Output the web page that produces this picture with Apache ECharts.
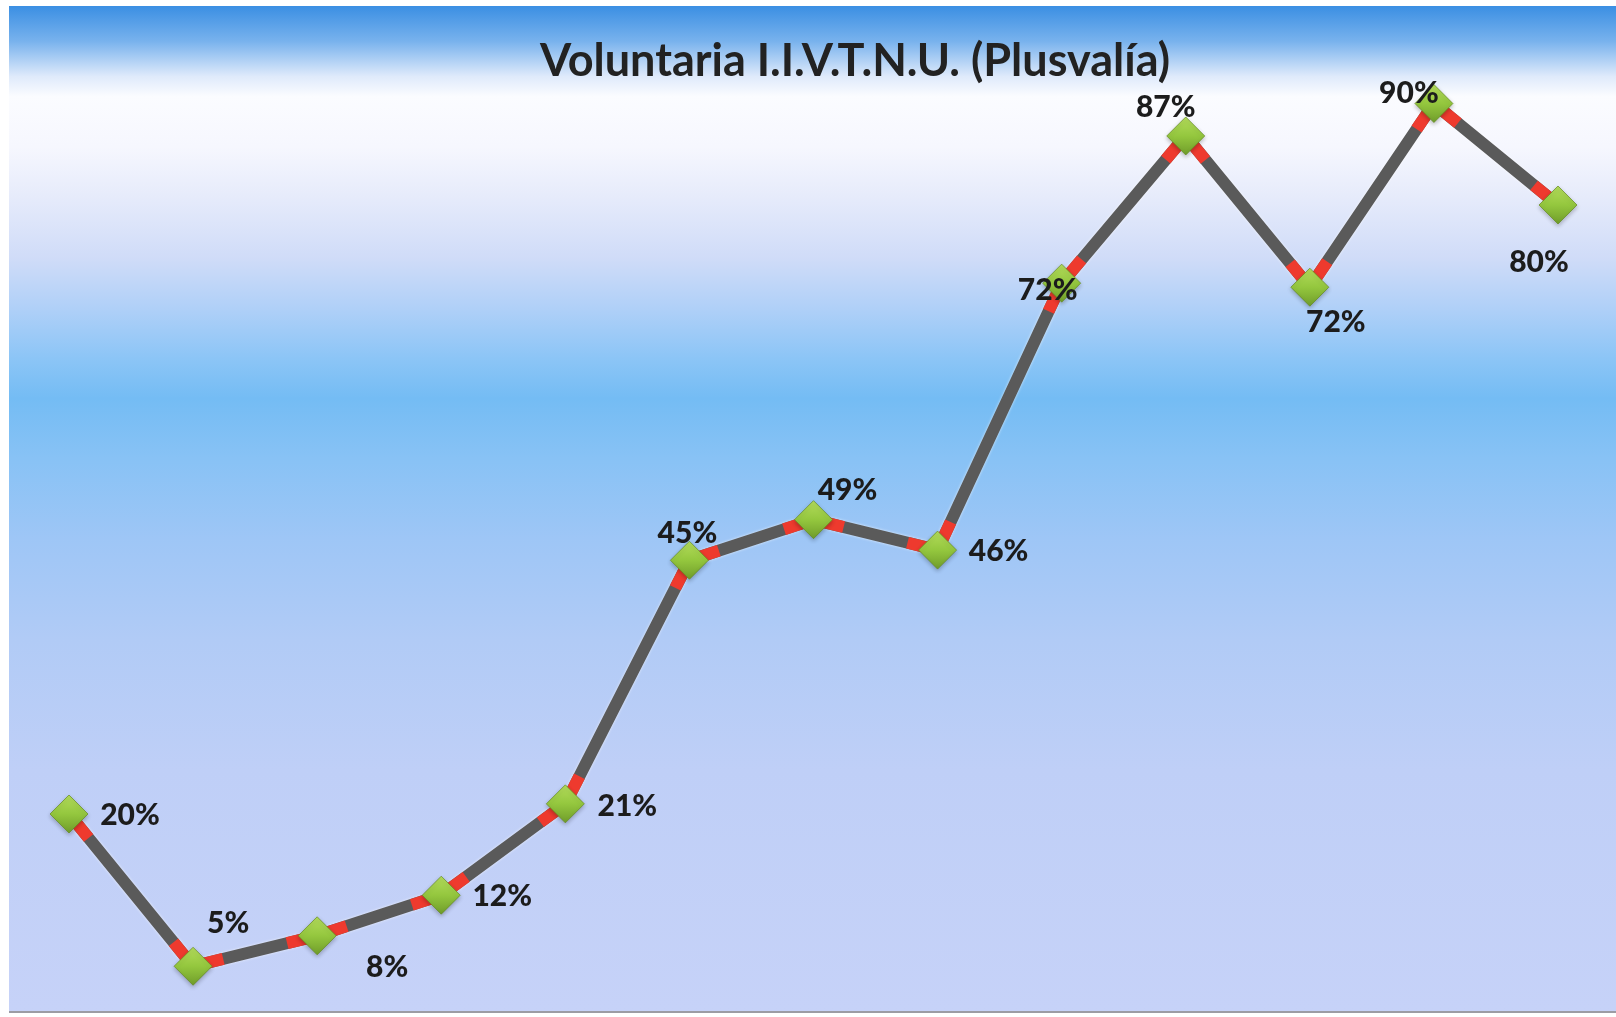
<!DOCTYPE html>
<html>
<head>
<meta charset="utf-8">
<style>
html,body{margin:0;padding:0;background:#ffffff;}
#chart{width:1616px;height:1017px;}
</style>
<script src="https://cdn.jsdelivr.net/npm/echarts@6/dist/echarts.min.js"></script>
</head>
<body>
<div id="chart"></div>
<script>
// ---- data ----
const titleText = 'Voluntaria I.I.V.T.N.U. (Plusvalía)';
const categories = ['1','2','3','4','5','6','7','8','9','10','11','12','13'];
const values = [20, 5, 8, 12, 21, 45, 49, 46, 72.3, 86.8, 71.9, 90, 80];
// label placement offsets (style only)
const labelOffsets = [[61,1],[35,-43],[70,32],[61,1],[62,2],[-2,-27],[34,-29],[61,1],[-14,7],[-20,-29],[26,35],[-25,-10],[-19,57]];

const chart = echarts.init(document.getElementById('chart'), null, {renderer:'canvas'});

const pointData = values.map((v,i)=>({
  value:[i, v],
  label:{offset: labelOffsets[i]}
}));

const option = {
  animation:false,
  backgroundColor:'#ffffff',
  graphic:[
    {type:'rect', z:-10, silent:true,
     shape:{x:9, y:6, width:1607, height:1006},
     style:{fill:new echarts.graphic.LinearGradient(0,0,0,1,[
       {offset:0.00, color:'#3b8fe3'},
       {offset:0.035, color:'#78b2ed'},
       {offset:0.07, color:'#dfeafb'},
       {offset:0.09, color:'#fbfcff'},
       {offset:0.14, color:'#f6f7fe'},
       {offset:0.19, color:'#e6ebfb'},
       {offset:0.25, color:'#d0dcf8'},
       {offset:0.30, color:'#b0d0f8'},
       {offset:0.35, color:'#8cc5f6'},
       {offset:0.39, color:'#74bcf4'},
       {offset:0.45, color:'#88c2f5'},
       {offset:0.53, color:'#9ec6f6'},
       {offset:0.63, color:'#b1cbf6'},
       {offset:0.76, color:'#bfcff7'},
       {offset:1.00, color:'#c6d2f8'}
     ])}
    },
    {type:'rect', z:-9, silent:true,
     shape:{x:9, y:1011, width:1607, height:2},
     style:{fill:'#9c9ca4'}}
  ],
  title:{
    text:titleText,
    left:540, top:39, padding:0,
    textStyle:{fontFamily:'Lato', fontWeight:'bold', fontSize:45, color:'#222222'}
  },
  grid:{left:69, right:58, top:2, bottom:-2, containLabel:false},
  xAxis:{
    type:'category', data:categories, boundaryGap:false,
    show:false
  },
  yAxis:{
    type:'value', min:0, max:100, show:false
  },
  series:[
    {
      type:'line', z:1, data:values, showSymbol:false, symbol:'none',
      lineStyle:{color:'#5a5a5a', width:12, cap:'butt', join:'miter',
        shadowColor:'rgba(255,255,255,0.7)', shadowBlur:3},
      silent:true
    },
    {
      type:'custom', z:2, silent:true,
      data: values.map((v,i)=>[i,v]),
      renderItem:function(params, api){
        const i = params.dataIndex;
        if (i >= values.length - 1) return null;
        const p0 = api.coord([i, values[i]]);
        const p1 = api.coord([i+1, values[i+1]]);
        const dx = p1[0]-p0[0], dy = p1[1]-p0[1];
        const len = Math.sqrt(dx*dx+dy*dy);
        const ux = dx/len, uy = dy/len;
        const L = 31;
        return {type:'group', children:[
          {type:'line', shape:{x1:p0[0], y1:p0[1], x2:p0[0]+ux*L, y2:p0[1]+uy*L},
           style:{stroke:'#ee3a2e', lineWidth:12, lineCap:'butt'}},
          {type:'line', shape:{x1:p1[0], y1:p1[1], x2:p1[0]-ux*L, y2:p1[1]-uy*L},
           style:{stroke:'#ee3a2e', lineWidth:12, lineCap:'butt'}}
        ]};
      }
    },
    {
      type:'scatter', z:3, data:pointData,
      symbol:'diamond', symbolSize:38,
      itemStyle:{
        opacity:1,
        color:new echarts.graphic.LinearGradient(0,0,0,1,[
          {offset:0, color:'#b4dc5c'},
          {offset:0.5, color:'#94c73e'},
          {offset:1, color:'#6f9c2a'}
        ]),
        borderColor:'rgba(100,140,30,0.7)', borderWidth:1,
        shadowColor:'rgba(0,0,0,0.25)', shadowBlur:4, shadowOffsetY:2
      },
      label:{
        show:true, position:'inside',
        formatter:function(p){return Math.round(p.value[1])+'%';},
        fontFamily:'Lato', fontWeight:900, fontSize:30, color:'#1c1c1c'
      },
      silent:true
    }
  ]
};
chart.setOption(option);
</script>
</body>
</html>
